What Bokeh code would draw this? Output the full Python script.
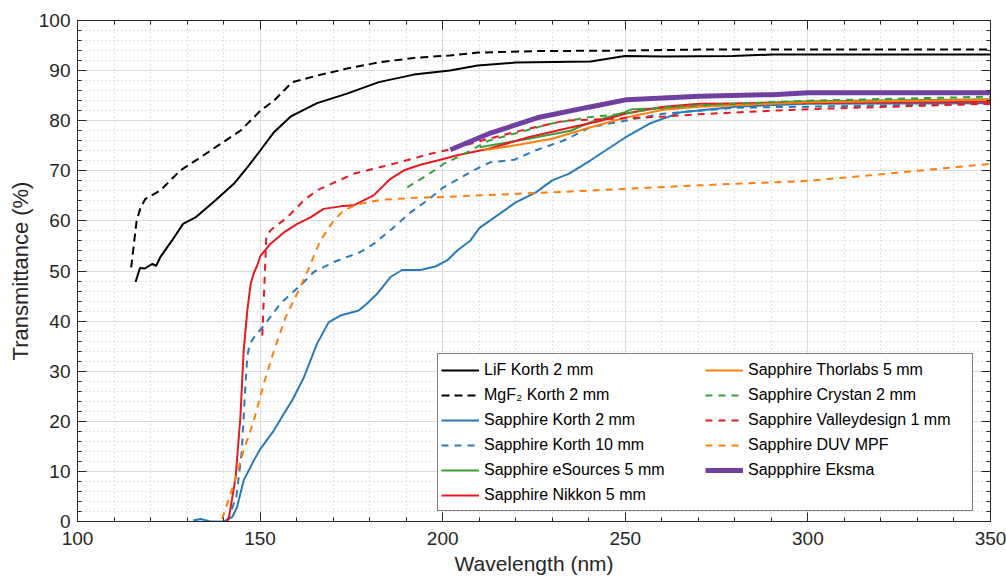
from bokeh.plotting import figure
from bokeh.models import Range1d, LinearAxis, SingleIntervalTicker
from bokeh.embed import file_html
from bokeh.resources import INLINE

# ---------------- data ----------------
lif_x = [115.9, 117.1, 118.4, 120.5, 121.5, 122.7, 125.9, 128.9, 132.3, 137.8, 142.8, 146.5, 150.1,
         153.8, 158.3, 165.6, 173.8, 182.5, 192.1, 202.0, 209.6, 220.0, 240.5, 249.9, 260.4, 279.3,
         290.2, 300.0, 350.0]
lif_y = [47.8, 50.6, 50.5, 51.4, 51.0, 52.8, 56.1, 59.4, 60.7, 64.1, 67.4, 70.7, 74.1,
         77.7, 80.8, 83.5, 85.4, 87.7, 89.2, 90.0, 91.0, 91.6, 91.8, 92.9, 92.8, 92.9,
         93.2, 93.2, 93.2]

mgf2_x = [114.7, 116.2, 117.3, 118.6, 122.7, 128.2, 133.7, 139.2, 144.6, 150.1, 153.8, 158.8, 165.6,
          173.8, 183.0, 193.0, 202.0, 209.6, 226.5, 249.9, 270.3, 350.0]
mgf2_y = [50.7, 60.1, 62.7, 64.4, 66.1, 70.1, 72.7, 75.4, 78.0, 82.0, 84.0, 87.7, 89.0,
          90.4, 91.7, 92.6, 93.0, 93.6, 93.9, 94.0, 94.2, 94.2]

korth2_x = [131.7, 133.7, 136.4, 140.1, 142.4, 143.7, 145.5, 148.3, 150.1, 153.8, 156.5, 158.8, 162.0,
            165.6, 168.8, 172.0, 177.0, 179.3, 182.1, 185.7, 188.9, 193.9, 198.0, 201.2, 204.0, 207.6,
            210.1, 220.0, 225.5, 230.0, 234.5, 240.5, 249.9, 256.9, 265.3, 280.3, 300.2, 350.0]
korth2_y = [0.2, 0.5, 0.0, 0.0, 0.9, 2.9, 8.2, 12.2, 14.5, 18.2, 21.5, 24.2, 28.8,
            35.5, 39.8, 41.1, 42.1, 43.5, 45.5, 48.8, 50.2, 50.2, 50.9, 52.1, 54.1, 56.1,
            58.6, 63.7, 65.7, 68.1, 69.4, 72.1, 76.6, 79.5, 81.7, 82.8, 83.4, 83.5]

korth10_x = [141.0, 143.5, 145.0, 145.8, 146.5, 147.2, 148.7, 151.0, 155.6, 162.0, 164.7, 170.2, 177.5,
             181.1, 186.6, 191.2, 196.7, 200.0, 204.6, 210.1, 213.1, 219.6, 225.5, 233.0, 240.5, 249.9,
             260.4, 270.3, 280.3, 300.2, 350.0]
korth10_y = [0.0, 5.0, 14.0, 25.0, 33.0, 35.5, 37.1, 39.1, 43.5, 47.8, 49.8, 51.8, 53.8,
             55.4, 58.7, 61.7, 64.6, 66.6, 68.5, 70.7, 71.7, 72.2, 74.1, 76.0, 78.7, 80.0,
             81.4, 82.0, 82.6, 82.8, 83.4]

esources_x = [210.1, 223.5, 235.0, 240.5, 249.9, 251.9, 260.4, 280.3, 300.2, 350.0]
esources_y = [74.7, 76.4, 78.0, 79.7, 81.7, 82.3, 82.5, 83.4, 83.9, 84.3]

nikkon_x = [140.5, 141.4, 143.3, 144.6, 145.5, 146.5, 147.4, 148.3, 149.2, 150.1, 152.8, 156.5, 160.2,
            163.8, 167.4, 172.0, 175.6, 181.1, 185.7, 189.4, 193.9, 199.4, 204.0, 212.6, 223.5, 233.5,
            243.4, 249.9, 260.4, 270.3, 350.0]
nikkon_y = [0.0, 0.5, 8.8, 20.8, 34.1, 42.1, 47.4, 49.6, 51.1, 53.0, 55.4, 57.7, 59.4,
            60.7, 62.4, 62.9, 63.1, 65.1, 68.4, 70.1, 71.2, 72.2, 73.1, 74.4, 76.7, 78.4,
            80.0, 81.4, 82.8, 83.4, 83.8]

thorlabs_x = [211.1, 220.0, 230.0, 240.5, 249.9, 260.4, 270.3, 300.2, 350.0]
thorlabs_y = [74.1, 75.1, 76.4, 78.7, 80.6, 82.2, 82.8, 83.7, 84.2]

crystan_x = [190.3, 195.7, 200.3, 204.6, 212.6, 219.6, 229.5, 240.0, 249.9, 260.4, 280.3, 300.2, 350.0]
crystan_y = [66.7, 69.1, 71.4, 72.9, 76.0, 77.4, 79.4, 80.7, 81.4, 82.7, 83.4, 84.0, 84.8]

valley_x = [150.6, 151.7, 152.8, 157.4, 162.0, 165.6, 175.6, 186.6, 196.7, 201.6, 212.6, 223.5, 233.5,
            249.9, 260.4, 270.3, 290.2, 300.2, 350.0]
valley_y = [37.1, 56.7, 58.1, 60.7, 64.1, 66.1, 69.4, 71.4, 73.4, 74.2, 76.4, 78.4, 80.0,
            80.5, 80.8, 81.3, 82.0, 82.3, 83.4]

duv_x = [139.6, 142.8, 145.5, 148.3, 151.0, 153.8, 157.0, 160.2, 162.9, 166.5, 170.2, 172.9, 176.6,
         183.0, 192.1, 201.2, 210.1, 230.0, 249.9, 270.3, 290.2, 300.2, 320.1, 330.0, 350.0]
duv_y = [0.5, 7.5, 14.2, 20.2, 27.5, 34.1, 40.8, 45.6, 49.8, 56.1, 60.1, 62.1, 63.3,
         64.2, 64.6, 64.8, 65.1, 65.7, 66.4, 67.1, 67.7, 68.0, 69.3, 70.0, 71.4]

eksma_x = [202.1, 212.6, 226.5, 240.0, 250.4, 270.3, 290.2, 300.2, 350.0]
eksma_y = [74.2, 77.4, 80.7, 82.7, 84.2, 84.9, 85.2, 85.6, 85.6]

labels = ["LiF Korth 2 mm", "MgF\u2082 Korth 2 mm", "Sapphire Korth 2 mm", "Sapphire Korth 10 mm",
          "Sapphire eSources 5 mm", "Sapphire Nikkon 5 mm", "Sapphire Thorlabs 5 mm",
          "Sapphire Crystan 2 mm", "Sapphire Valleydesign 1 mm", "Sapphire DUV MPF", "Sappphire Eksma"]

x_ticks_major = 50
y_ticks_major = 10

# ---------------- styling ----------------
FONT = "Liberation Sans"
TXT = "#262626"
BLUE = "#2a7ab8"
GREEN = "#3a9e3a"
RED = "#e8191f"
ORANGE = "#ff7f0e"
PURPLE = "#7040a0"

series = [
    (lif_x, lif_y, "black", "solid", 2),
    (mgf2_x, mgf2_y, "black", "8 5", 2),
    (korth2_x, korth2_y, BLUE, "solid", 2),
    (korth10_x, korth10_y, BLUE, "7 6", 2),
    (esources_x, esources_y, GREEN, "solid", 2),
    (nikkon_x, nikkon_y, RED, "solid", 2),
    (thorlabs_x, thorlabs_y, ORANGE, "solid", 2),
    (crystan_x, crystan_y, GREEN, "7 6", 2),
    (valley_x, valley_y, RED, "7 6", 2),
    (duv_x, duv_y, ORANGE, "7 6", 2),
    (eksma_x, eksma_y, PURPLE, "solid", 5),
]

p = figure(width=1006, height=581, x_range=Range1d(100, 350), y_range=Range1d(0, 100),
           output_backend="svg", toolbar_location=None,
           min_border_left=77, min_border_right=16, min_border_top=20, min_border_bottom=60,
           x_axis_label="Wavelength (nm)", y_axis_label="Transmittance (%)")

bottom = p.below[0]
left = p.left[0]

xticker = SingleIntervalTicker(interval=x_ticks_major, num_minor_ticks=5)
yticker = SingleIntervalTicker(interval=y_ticks_major, num_minor_ticks=5)

bottom.ticker = xticker
left.ticker = yticker
p.xgrid.ticker = xticker
p.ygrid.ticker = yticker

p.grid.grid_line_color = "#dcdcdc"
p.grid.grid_line_width = 1
p.grid.minor_grid_line_color = "#c4c4c4"
p.grid.minor_grid_line_dash = "1 3"
p.grid.minor_grid_line_width = 1

p.outline_line_color = TXT
p.outline_line_width = 1
p.background_fill_color = "white"
p.border_fill_color = "white"

top = LinearAxis(ticker=xticker)
right = LinearAxis(ticker=yticker)
p.add_layout(top, "above")
p.add_layout(right, "right")

for ax in [bottom, left, top, right]:
    ax.axis_line_color = TXT
    ax.major_tick_line_color = TXT
    ax.minor_tick_line_color = TXT
    ax.major_tick_in = 9
    ax.major_tick_out = 0
    ax.minor_tick_in = 4
    ax.minor_tick_out = 0
    ax.major_label_text_font = FONT
    ax.major_label_text_color = TXT
    ax.major_label_text_font_size = "19px"
    ax.axis_label_text_font = FONT
    ax.axis_label_text_color = TXT
    ax.axis_label_text_font_style = "normal"

bottom.axis_label_text_font_size = "21px"
left.axis_label_text_font_size = "22px"

for ax in [top, right]:
    ax.major_label_text_color = None
    ax.major_label_text_font_size = "1px"
    ax.major_label_standoff = 0

bottom.major_label_standoff = 10
bottom.axis_label_standoff = 4
left.major_label_standoff = 7
left.axis_label_standoff = 3

for (xs, ys, col, dash, w), lab in zip(series, labels):
    p.line(xs, ys, line_color=col, line_dash=dash, line_width=w, legend_label=lab)

lg = p.legend[0]
lg.ncols = 2
lg.location = (360, 10)
lg.border_line_color = "black"
lg.border_line_width = 1
lg.background_fill_color = "white"
lg.background_fill_alpha = 1
lg.label_text_font = FONT
lg.label_text_font_size = "16px"
lg.label_text_color = "black"
lg.glyph_width = 38
lg.glyph_height = 20
lg.label_height = 25
lg.label_standoff = 5
lg.label_width = 221
lg.padding = 3
lg.spacing = 0
lg.margin = 0

open("out.html", "w").write(file_html(p, INLINE))
